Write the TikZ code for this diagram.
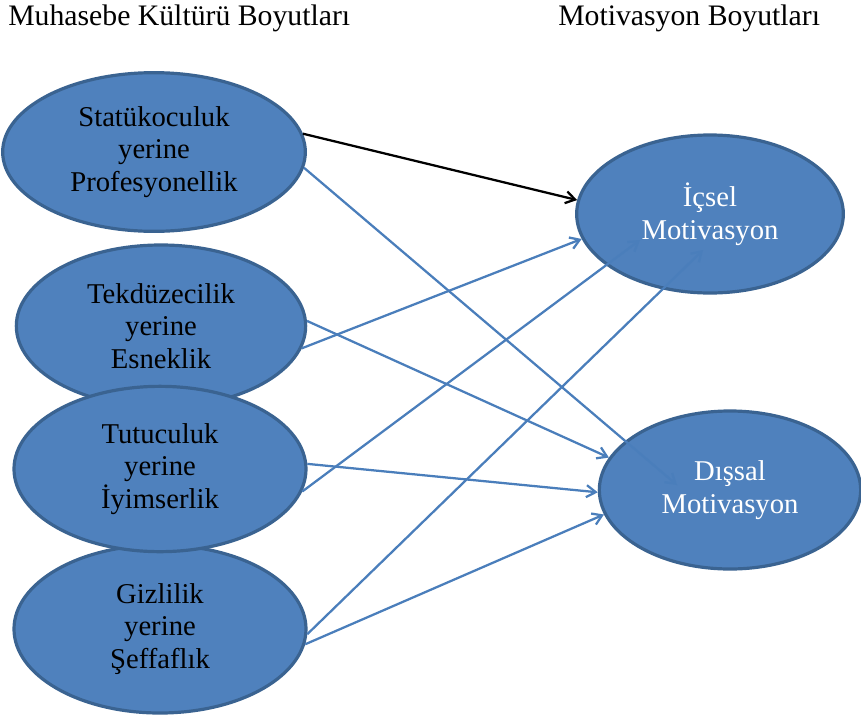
\documentclass[tikz,border=0pt]{standalone}
\usepackage{fontspec}
\setmainfont{Liberation Serif}
\usetikzlibrary{shapes.geometric, arrows.meta}
\definecolor{boxblue}{HTML}{4F81BD}
\definecolor{boxedge}{HTML}{3A6391}
\definecolor{lineblue}{HTML}{4A7EBB}
\begin{document}
\begin{tikzpicture}
            [
                x = 0.75pt, y = -0.75pt,
                main/.style = {draw=boxedge, line width=2.4pt, fill=boxblue, ellipse, inner sep=0pt, align=center, font=\fontsize{21.5}{24.5}\selectfont},
                link/.style = {draw=lineblue, line width=1.7pt, -{Straight Barb[length=7pt, width=9pt]}},
                head/.style = {anchor=west, inner sep=0pt, font=\fontsize{22.3}{25}\selectfont}
            ]
            \useasboundingbox (0, 0) rectangle (861, 718);
            \node[head] (kultur) at (8, 18) {Muhasebe Kültürü Boyutları};
            \node[head] (motiv) at (558, 18) {Motivasyon Boyutları};
            \node[main, minimum width=227pt, minimum height=119pt] (SP) at (154, 152) {Statükoculuk\\yerine\\Profesyonellik};
            \node[main, minimum width=217pt, minimum height=121.5pt] (TE) at (161, 326) {Tekdüzecilik\\yerine\\Esneklik};
            \node[main, minimum width=219pt, minimum height=126pt] (GS) at (160, 629) {Gizlilik\\yerine\\Şeffaflık};
            \node[main, minimum width=219pt, minimum height=124pt] (TI) at (160, 469) {Tutuculuk\\yerine\\İyimserlik};
            \begin{scope}[main/.append style = {text=white}]
                \node[main, minimum width=200pt, minimum height=118.5pt] (IM) at (710, 214) {İçsel\\Motivasyon};
                \node[main, minimum width=196pt, minimum height=118.5pt] (DM) at (730, 490) {Dışsal\\Motivasyon};
            \end{scope}
            \coordinate (Dtip) at (677, 485);
            \coordinate (Itip1) at (640, 240);
            \coordinate (Itip2) at (703, 250);
            \draw[link, draw=black] (SP.7) -- (IM.174);
            \draw[link] (SP.-6) -- (Dtip);
            \draw[link] (TE.2) -- (DM.165);
            \draw[link] (TE.-9) -- (IM.191);
            \draw[link] (TI.2) -- (DM.181);
            \draw[link] (TI.-9) -- (Itip1);
            \draw[link] (GS.-2) -- (Itip2);
            \draw[link] (GS.-6) -- (DM.191);
        \end{tikzpicture}
\end{document}
